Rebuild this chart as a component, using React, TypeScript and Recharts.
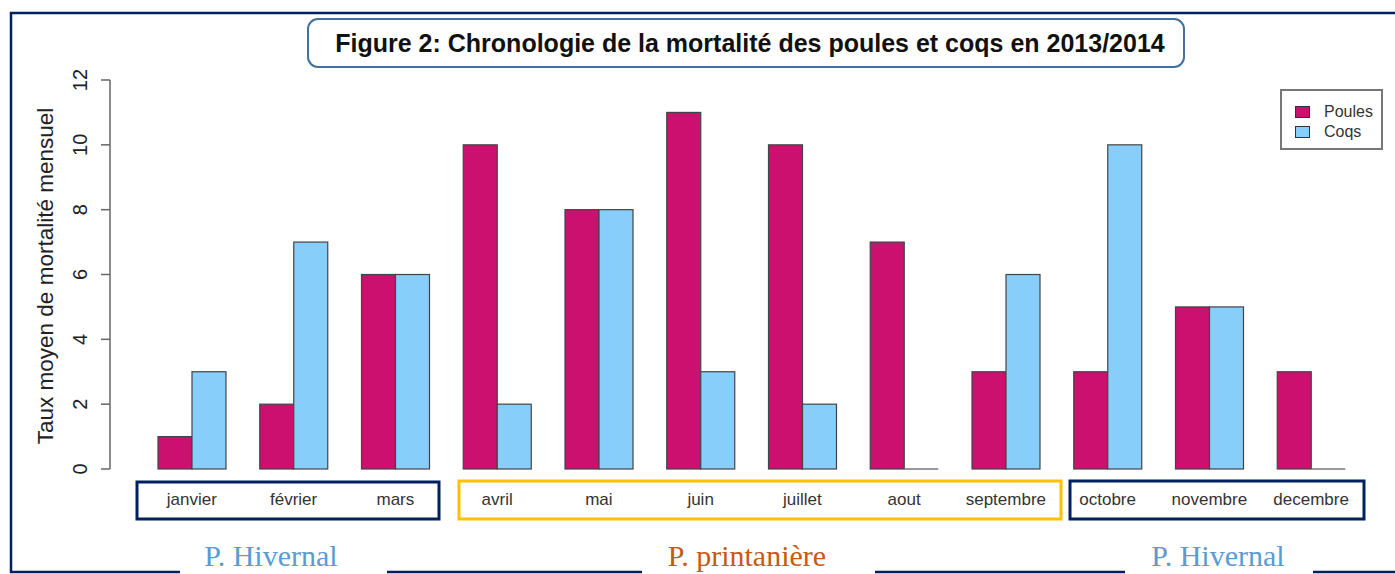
import React from 'react';
import { BarChart, Bar, XAxis, YAxis } from 'recharts';

const months = ['janvier', 'février', 'mars', 'avril', 'mai', 'juin', 'juillet', 'aout', 'septembre', 'octobre', 'novembre', 'decembre'];
const poules = [1, 2, 6, 10, 8, 11, 10, 7, 3, 3, 5, 3];
const coqs = [3, 7, 6, 2, 8, 3, 2, 0, 6, 10, 5, 0];
const yTicks = [0, 2, 4, 6, 8, 10, 12];
const seriesNames = ['Poules', 'Coqs'];
const seriesColors = ['#CC1070', '#87CEFA'];
const titleText = 'Figure 2: Chronologie de la mortalité des poules et coqs en 2013/2014';
const yTitle = 'Taux moyen de mortalité mensuel';

const data = months.map((m, i) => ({ month: m, Poules: poules[i], Coqs: coqs[i] }));

const SANS = '"Liberation Sans", Arial, sans-serif';
const SERIF = '"Liberation Serif", "Times New Roman", serif';
const NAVY = '#002060';

const BarShape = (props: any) => {
  const { x, y, width, height, fill } = props;
  if (!height || height <= 0) {
    return <line x1={x} x2={x + width} y1={y} y2={y} stroke="#777" strokeWidth={1.5} />;
  }
  return <rect x={x} y={y} width={width} height={height} fill={fill} stroke="#444" strokeWidth={1.2} />;
};

const YTick = (props: any) => {
  const { x, y, payload } = props;
  const bx = x - 12;
  return (
    <text x={bx} y={y} transform={`rotate(-90 ${bx} ${y})`} textAnchor="middle" fontSize={20} fill="#222" fontFamily={SANS}>
      {payload.value}
    </text>
  );
};

const XTick = (props: any) => {
  const { x, y, payload } = props;
  return (
    <text x={x} y={y} dy={28} textAnchor="middle" fontSize={17} fill="#333" fontFamily={SANS}>
      {payload.value}
    </text>
  );
};

export default function App() {
  return (
    <div style={{ position: 'absolute', left: 0, top: 0, width: 1395, height: 574, background: '#fff', overflow: 'hidden' }}>
      <BarChart width={1395} height={574} data={data} margin={{ top: 80, right: 33, bottom: 65, left: 0 }} barGap={0} barSize={34}>
        <XAxis dataKey="month" axisLine={false} tickLine={false} tick={<XTick />} height={40} padding={{ left: 31, right: 0 }} interval={0} />
        <YAxis domain={[0, 12]} ticks={yTicks} width={110} tickSize={9} tickMargin={2} tick={<YTick />} axisLine={{ stroke: '#666', strokeWidth: 1.5 }} tickLine={{ stroke: '#666', strokeWidth: 1.5 }} />
        <Bar dataKey="Poules" name={seriesNames[0]} fill={seriesColors[0]} shape={<BarShape />} isAnimationActive={false} />
        <Bar dataKey="Coqs" name={seriesNames[1]} fill={seriesColors[1]} shape={<BarShape />} isAnimationActive={false} />
      </BarChart>
      <div style={{ position: 'absolute', left: 1280, top: 89, width: 103, height: 61, border: '2px solid #777', boxSizing: 'border-box', background: '#fff', fontFamily: SANS, fontSize: 16, color: '#333', paddingTop: 11, paddingLeft: 13 }}>
        {seriesNames.map((n, i) => (
          <div key={n} style={{ display: 'flex', alignItems: 'center', height: 20 }}>
            <span style={{ display: 'inline-block', width: 13, height: 10, background: seriesColors[i], border: '1px solid #333', marginRight: 14 }} />
            <span>{n}</span>
          </div>
        ))}
      </div>
      <svg width={1395} height={574} style={{ position: 'absolute', left: 0, top: 0, pointerEvents: 'none' }}>
        <line x1={10} x2={1395} y1={13} y2={13} stroke={NAVY} strokeWidth={2.5} />
        <line x1={11} x2={11} y1={12} y2={573} stroke={NAVY} strokeWidth={2.5} />
        <line x1={10} x2={180} y1={572} y2={572} stroke={NAVY} strokeWidth={2.5} />
        <line x1={387} x2={642} y1={572} y2={572} stroke={NAVY} strokeWidth={2.5} />
        <line x1={875} x2={1125} y1={572} y2={572} stroke={NAVY} strokeWidth={2.5} />
        <line x1={1313} x2={1395} y1={572} y2={572} stroke={NAVY} strokeWidth={2.5} />
        <rect x={308} y={19} width={876} height={48} rx={10} fill="#fff" stroke="#41719C" strokeWidth={2} />
        <text x={750} y={52} textAnchor="middle" fontSize={25} fontWeight="bold" fill="#111" fontFamily={SANS}>{titleText}</text>
        <text x={45} y={276} transform="rotate(-90 45 276)" textAnchor="middle" dominantBaseline="central" fontSize={22.5} fill="#222" fontFamily={SANS}>{yTitle}</text>
        <rect x={137} y={482} width={302} height={37} fill="none" stroke={NAVY} strokeWidth={3} />
        <rect x={459} y={481} width={602} height={38} fill="none" stroke="#FFC000" strokeWidth={3} />
        <rect x={1070} y={481} width={294} height={38} fill="none" stroke={NAVY} strokeWidth={3} />
        <text x={271} y={566} textAnchor="middle" fontSize={30} fill="#5B9BD5" fontFamily={SERIF}>P. Hivernal</text>
        <text x={747} y={566} textAnchor="middle" fontSize={30} fill="#C55A11" fontFamily={SERIF}>P. printanière</text>
        <text x={1218} y={566} textAnchor="middle" fontSize={30} fill="#5B9BD5" fontFamily={SERIF}>P. Hivernal</text>
      </svg>
    </div>
  );
}
